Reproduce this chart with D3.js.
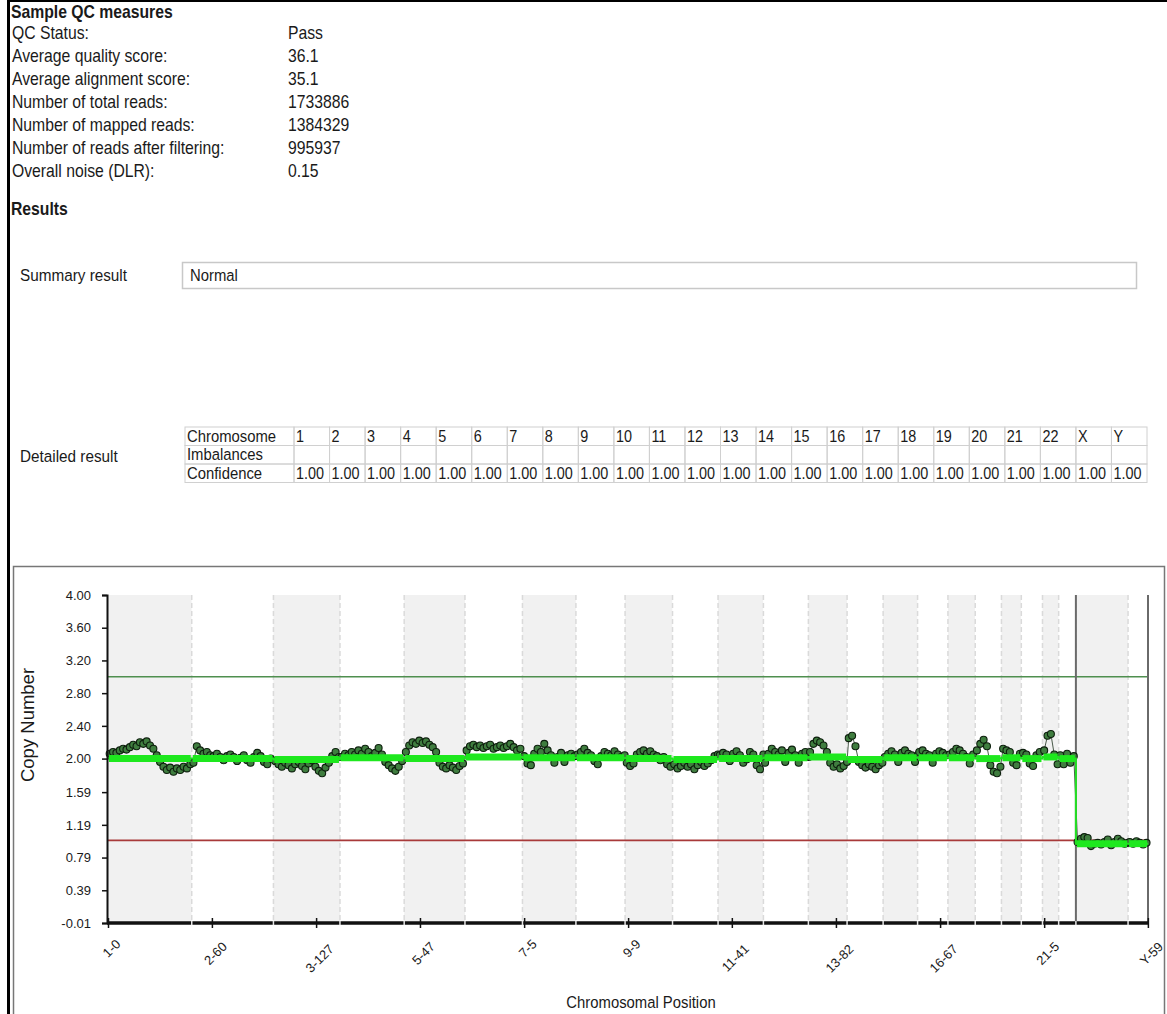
<!DOCTYPE html>
<html>
<head>
<meta charset="utf-8">
<script src="https://cdn.jsdelivr.net/npm/d3@7"></script>
<style>
  html, body { margin: 0; padding: 0; background: #fff; }
  svg { display: block; }
  text { font-family: "Liberation Sans", Arial, sans-serif; fill: #1a1a1a; }
</style>
</head>
<body>
<svg id="page" width="1167" height="1014"></svg>
<script>
// ---- QC summary ----
const qcLabels = ["QC Status:", "Average quality score:", "Average alignment score:",
  "Number of total reads:", "Number of mapped reads:", "Number of reads after filtering:",
  "Overall noise (DLR):"];
const qcValues = ["Pass", "36.1", "35.1", "1733886", "1384329", "995937", "0.15"];
const summaryResult = "Normal";

// ---- per-chromosome results ----
const chromosomes = ["1","2","3","4","5","6","7","8","9","10","11","12","13","14","15",
  "16","17","18","19","20","21","22","X","Y"];
const imbalances = chromosomes.map(() => "");
const confidence = ["1.00","1.00","1.00","1.00","1.00","1.00","1.00","1.00","1.00","1.00",
  "1.00","1.00","1.00","1.00","1.00","1.00","1.00","1.00","1.00","1.00","1.00","1.00","1.00","1.00"];

// chromosome lengths (Mb) that lay out the genome axis
const chromLengthsMb = [249.25, 243.2, 198.02, 191.15, 180.92, 171.12, 159.14, 146.36, 141.21,
  135.53, 135.01, 133.85, 115.17, 107.35, 102.53, 90.35, 81.2, 78.08, 59.13, 63.03, 48.13, 51.3,
  155.27, 59.37];
const binSizeMb = 10;

// copy-number estimates per 10 Mb bin
const cn1  = [2.06, 2.08, 2.07, 2.10, 2.12, 2.11, 2.14, 2.17, 2.15, 2.20, 2.18, 2.21, 2.16, 2.12, 2.04, 1.96, 1.90, 1.86, 1.89, 1.84, 1.88, 1.86, 1.90, 1.88, 1.93];
const cn2  = [1.95, 2.15, 2.10, 2.06, 2.08, 2.04, 2.03, 2.06, 2.02, 1.98, 2.03, 2.05, 2.02, 1.97, 2.01, 2.04, 1.98, 1.95, 2.02, 2.07, 2.03, 1.96, 1.93, 2.00];
const cn3  = [1.97, 1.93, 1.90, 1.95, 1.92, 1.88, 1.93, 1.96, 1.91, 1.87, 1.94, 1.98, 1.90, 1.85, 1.82, 1.89, 1.95, 2.03, 2.08, 2.02];
const cn4  = [2.02, 2.06, 2.04, 2.08, 2.05, 2.10, 2.06, 2.12, 2.08, 2.03, 2.07, 2.13, 2.05, 1.96, 1.92, 1.88, 1.85, 1.90, 1.97];
const cn5  = [2.08, 2.16, 2.20, 2.18, 2.22, 2.19, 2.21, 2.17, 2.14, 2.08, 1.95, 1.90, 1.88, 1.92, 1.89, 1.86, 1.91, 1.94];
const cn6  = [2.10, 2.15, 2.17, 2.14, 2.16, 2.13, 2.15, 2.17, 2.12, 2.14, 2.16, 2.13, 2.15, 2.18, 2.14, 2.10, 2.12];
const cn7  = [2.03, 1.94, 1.92, 2.06, 2.12, 2.08, 2.18, 2.10, 2.04, 1.95, 2.02, 2.07, 1.96, 2.04, 2.06, 2.03];
const cn8  = [2.05, 2.08, 2.12, 2.07, 2.04, 1.97, 1.93, 2.03, 2.08, 2.06, 2.04, 2.09, 2.05, 2.02, 2.04];
const cn9  = [1.95, 1.91, 1.94, 2.05, 2.08, 2.10, 2.06, 2.09, 2.05, 2.03, 1.98, 2.02, 1.93, 1.90];
const cn10 = [1.93, 1.88, 1.91, 1.95, 1.90, 1.93, 1.87, 1.92, 1.96, 1.91, 1.94, 1.98, 2.03, 2.05];
const cn11 = [2.04, 2.07, 2.05, 1.97, 2.06, 2.09, 2.04, 1.95, 1.99, 2.08, 2.05, 1.92, 1.87, 2.05];
const cn12 = [1.95, 2.06, 2.12, 2.08, 2.05, 2.10, 1.96, 2.07, 2.11, 2.04, 1.95, 2.06, 2.08, 2.02];
const cn13 = [2.08, 2.18, 2.22, 2.20, 2.16, 2.08, 1.95, 1.90, 1.93, 1.88, 1.91, 1.96];
const cn14 = [2.25, 2.28, 2.15, 1.96, 1.92, 1.89, 1.93, 1.90, 1.87, 1.92, 1.95];
const cn15 = [2.02, 2.06, 2.09, 2.05, 1.96, 2.07, 2.10, 2.06, 2.04, 1.96, 2.05];
const cn16 = [2.08, 2.10, 2.06, 2.04, 1.95, 2.06, 2.09, 2.07, 2.04];
const cn17 = [2.05, 2.08, 2.12, 2.10, 2.06, 2.02, 1.94, 2.05];
const cn18 = [2.10, 2.18, 2.23, 2.15, 1.92, 1.84, 1.82, 1.90];
const cn19 = [2.12, 2.10, 2.08, 1.95, 1.92, 2.06];
const cn20 = [2.07, 2.05, 1.94, 1.91, 2.04, 2.08];
const cn21 = [2.10, 2.28, 2.30, 2.05, 1.93];
const cn22 = [2.04, 1.93, 2.06, 1.95, 2.03];
const cnX  = [0.98, 1.02, 1.04, 1.03, 0.93, 0.96, 0.97, 0.95, 0.98, 1.01, 0.94, 0.98, 1.02, 0.99, 0.96, 0.97];
const cnY  = [0.98, 0.96, 0.99, 0.97, 0.95, 0.97];
const binValues = [cn1, cn2, cn3, cn4, cn5, cn6, cn7, cn8, cn9, cn10, cn11, cn12, cn13, cn14,
  cn15, cn16, cn17, cn18, cn19, cn20, cn21, cn22, cnX, cnY];

// segmented copy-number call per chromosome
const segmentCalls = [2.00, 2.00, 1.99, 2.01, 2.00, 2.02, 2.01, 2.01, 2.00, 1.99, 2.00, 2.01,
  2.02, 1.99, 2.01, 2.01, 2.01, 2.00, 2.01, 2.00, 2.02, 2.00, 0.96, 0.96];

// thresholds
const gainLine = 3.0;
const lossLine = 1.0;

// axes
const yTickValues = [4.00, 3.60, 3.20, 2.80, 2.40, 2.00, 1.59, 1.19, 0.79, 0.39, -0.01];
const xTickChrom = ["1", "2", "3", "5", "7", "9", "11", "13", "16", "21", "Y"];
const xTickPosMb = [0, 60, 127, 47, 5, 9, 41, 82, 67, 5, 59];

// ================= drawing =================
const svg = d3.select("#page");
const font = '"Liberation Sans", Arial, sans-serif';

// narrow report text: drawn slightly condensed
function label(parent, x0, y0, str, size, weight) {
  return parent.append("text")
    .attr("transform", `translate(${x0},${y0}) scale(0.9,1)`)
    .attr("font-size", size).attr("font-weight", weight || "normal").text(str);
}

// page border
svg.append("line").attr("x1", 8.5).attr("x2", 8.5).attr("y1", 0).attr("y2", 1014)
  .attr("stroke", "#000").attr("stroke-width", 3);
svg.append("line").attr("x1", 7).attr("x2", 1167).attr("y1", 1).attr("y2", 1)
  .attr("stroke", "#000").attr("stroke-width", 2);

// QC block
label(svg, 11, 18, "Sample QC measures", 17.5, "bold");
const qc = svg.append("g");
qcLabels.forEach((lab, i) => {
  label(qc, 12, 39 + i * 23, lab, 17.5);
  label(qc, 288, 39 + i * 23, qcValues[i], 17.5);
});

label(svg, 11, 215, "Results", 17.5, "bold");

label(svg, 20, 281, "Summary result", 17);
svg.append("rect").attr("x", 182.5).attr("y", 262.5).attr("width", 954).attr("height", 26)
  .attr("fill", "#fff").attr("stroke", "#c8c8c8").attr("stroke-width", 1.5);
label(svg, 190, 281, summaryResult, 16.5);

label(svg, 20, 462, "Detailed result", 17);

// detailed result table
const tblX = 185, tblY = 427, firstColW = 109, rowH = 18.5;
const colX = d3.scaleBand().domain(chromosomes).range([tblX + firstColW, 1147]);
const rows = [
  { head: "Chromosome", cells: chromosomes },
  { head: "Imbalances", cells: imbalances },
  { head: "Confidence", cells: confidence }
];
const tbl = svg.append("g");
rows.forEach((r, ri) => {
  const y0 = tblY + ri * rowH;
  tbl.append("rect").attr("x", tblX).attr("y", y0).attr("width", firstColW).attr("height", rowH)
    .attr("fill", "none").attr("stroke", "#d0d0d0");
  label(tbl, tblX + 2, y0 + 14.5, r.head, 16.5);
  chromosomes.forEach((c, ci) => {
    tbl.append("rect").attr("x", colX(c)).attr("y", y0).attr("width", colX.bandwidth()).attr("height", rowH)
      .attr("fill", "none").attr("stroke", "#d0d0d0");
    label(tbl, colX(c) + 2, y0 + 14.5, r.cells[ci], 16);
  });
});

// chart frame
svg.append("rect").attr("x", 13.5).attr("y", 566.5).attr("width", 1151).attr("height", 520)
  .attr("fill", "#fff").attr("stroke", "#777").attr("stroke-width", 1.5);

// genome layout
const chromStart = [];
let acc = 0;
chromLengthsMb.forEach(len => { chromStart.push(acc); acc += len; });
const genomeLen = acc;

const plotL = 108, plotR = 1148, plotT = 595, plotB = 923;
const x = d3.scaleLinear().domain([0, genomeLen]).range([plotL, plotR]);
const y = d3.scaleLinear().domain([-0.01, 4.00]).range([plotB, plotT]);

const chart = svg.append("g");

// alternating chromosome bands
chart.selectAll("rect.band").data(chromosomes).join("rect")
  .attr("class", "band")
  .attr("x", (d, i) => x(chromStart[i]))
  .attr("y", plotT)
  .attr("width", (d, i) => x(chromStart[i] + chromLengthsMb[i]) - x(chromStart[i]))
  .attr("height", plotB - plotT)
  .attr("fill", (d, i) => i % 2 === 0 ? "#f1f1f1" : "#fff");

// dashed chromosome boundaries
const boundaries = chromStart.slice(1);
chart.selectAll("line.bound").data(boundaries).join("line")
  .attr("x1", d => x(d)).attr("x2", d => x(d))
  .attr("y1", plotT).attr("y2", plotB)
  .attr("stroke", "#dadada").attr("stroke-width", 1.5).attr("stroke-dasharray", "5,3");

// threshold lines
chart.append("line").attr("x1", plotL).attr("x2", plotR).attr("y1", y(gainLine)).attr("y2", y(gainLine))
  .attr("stroke", "#4f8f4f").attr("stroke-width", 1.6);
chart.append("line").attr("x1", plotL).attr("x2", plotR).attr("y1", y(lossLine)).attr("y2", y(lossLine))
  .attr("stroke", "#a83a3a").attr("stroke-width", 1.8);

// sex-chromosome separator and right edge
[chromStart[22], genomeLen].forEach(v => {
  chart.append("line").attr("x1", x(v)).attr("x2", x(v)).attr("y1", plotT).attr("y2", plotB)
    .attr("stroke", "#6a6a6a").attr("stroke-width", 2);
});

// bin points
const points = [];
binValues.forEach((arr, ci) => {
  arr.forEach((v, k) => points.push({ chrom: ci, pos: chromStart[ci] + binSizeMb * (k + 0.5), v }));
});

chart.append("path").datum(points)
  .attr("fill", "none").attr("stroke", "#4a5a4a").attr("stroke-width", 1)
  .attr("d", d3.line().x(d => x(d.pos)).y(d => y(d.v)));

chart.selectAll("circle.bin").data(points).join("circle")
  .attr("class", "bin")
  .attr("cx", d => x(d.pos)).attr("cy", d => y(d.v)).attr("r", 3.5)
  .attr("fill", "#3f7d3f").attr("stroke", "#0d1f0d").attr("stroke-width", 1.1);

// segmented calls: thin continuous trace plus thick per-chromosome segments
const segPts = [];
segmentCalls.forEach((v, i) => {
  segPts.push({ pos: chromStart[i], v });
  segPts.push({ pos: chromStart[i] + chromLengthsMb[i], v });
});
chart.append("path").datum(segPts)
  .attr("fill", "none").attr("stroke", "#22e022").attr("stroke-width", 2)
  .attr("d", d3.line().x(d => x(d.pos)).y(d => y(d.v)));
chart.selectAll("line.seg").data(segmentCalls).join("line")
  .attr("class", "seg")
  .attr("x1", (d, i) => x(chromStart[i]) + 1)
  .attr("x2", (d, i) => x(chromStart[i] + chromLengthsMb[i]) - 1)
  .attr("y1", d => y(d)).attr("y2", d => y(d))
  .attr("stroke", "#1ee81e").attr("stroke-width", 7);

// y axis
const yAxis = d3.axisLeft(y).tickValues(yTickValues).tickFormat(d => d.toFixed(2)).tickSize(5).tickPadding(11);
const gy = chart.append("g").attr("transform", `translate(${plotL - 1},0)`).call(yAxis);
gy.select(".domain").attr("stroke", "#111").attr("stroke-width", 2);
gy.selectAll(".tick line").attr("stroke", "#111").attr("stroke-width", 1.5);
gy.selectAll(".tick text").attr("font-family", font).attr("font-size", 13).attr("fill", "#333");

// x axis
const xTickPos = xTickChrom.map((c, i) => chromStart[chromosomes.indexOf(c)] + xTickPosMb[i]);
const xAxis = d3.axisBottom(x).tickValues(xTickPos)
  .tickFormat((d, i) => `${xTickChrom[i]}-${xTickPosMb[i]}`).tickSize(5).tickSizeOuter(0);
const gx = chart.append("g").attr("transform", `translate(0,${plotB})`).call(xAxis);
gx.select(".domain").attr("stroke", "#111").attr("stroke-width", 3.5);
gx.selectAll(".tick line").attr("stroke", "#111").attr("stroke-width", 1.5).attr("y1", -5);
gx.selectAll(".tick text")
  .attr("font-family", font).attr("font-size", 13).attr("fill", "#333")
  .attr("text-anchor", "end").attr("dy", "0.35em").attr("y", 0)
  .each(function () {
    // rotated labels sit centred under their tick
    const half = this.getComputedTextLength() * 0.354;
    d3.select(this).attr("transform", `translate(${half + 3},${12 + half}) rotate(-45)`);
  });
gx.select(".domain").attr("d", `M${plotL - 1},0H${plotR}`);

// light gaps where chromosome boundaries cross the axis
chart.selectAll("line.gap").data(boundaries).join("line")
  .attr("x1", d => x(d)).attr("x2", d => x(d))
  .attr("y1", plotB - 2).attr("y2", plotB + 2)
  .attr("stroke", "#e6e6e6").attr("stroke-width", 1.5);

// axis titles
chart.append("text").attr("transform", `translate(34,725) rotate(-90)`)
  .attr("text-anchor", "middle").attr("font-family", '"DejaVu Sans", Verdana, sans-serif')
  .attr("font-size", 18.5).attr("fill", "#333").text("Copy Number");
chart.append("text").attr("transform", "translate(641,1008) scale(0.9,1)").attr("text-anchor", "middle")
  .attr("font-size", 16.5).attr("fill", "#222").text("Chromosomal Position");
</script>
</body>
</html>
